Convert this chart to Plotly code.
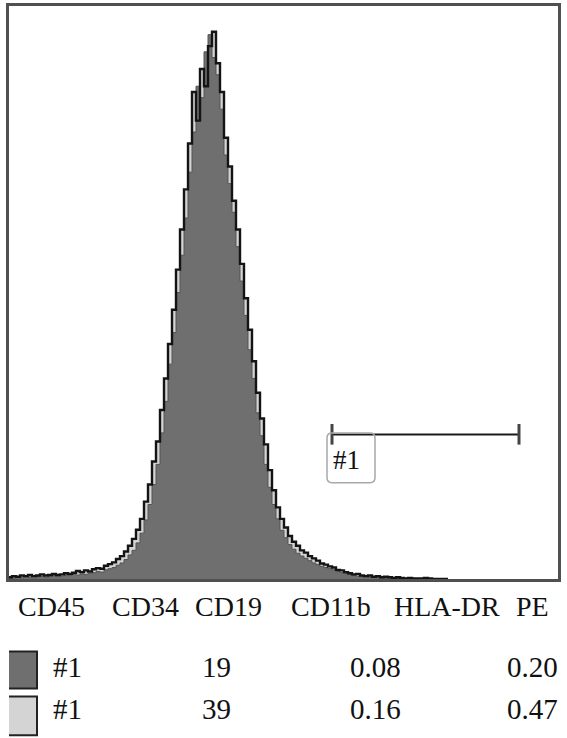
import plotly.graph_objects as go

# ---- data ----
channels = list(range(8, 452, 4))
series_dark = [0.1, 0.2, 0.3, 0.2, 0.4, 0.3, 0.2, 0.4, 0.5, 0.3,
               0.4, 0.6, 0.4, 0.5, 0.7, 0.6, 0.8, 0.7, 0.9, 0.8,
               1.0, 1.1, 1.3, 1.2, 1.6, 1.8, 2.0, 2.4, 2.8, 3.4,
               4.2, 5.0, 6.3, 8.0, 10.3, 13.0, 16.5, 20.0, 25.5, 31.0,
               37.5, 43.0, 50.0, 56.5, 63.0, 71.0, 78.0, 86.0, 84.0, 92.0,
               95.0, 91.0, 88.0, 82.0, 74.0, 69.0, 64.0, 58.0, 52.0, 46.0,
               40.0, 35.0, 29.0, 25.0, 20.0, 16.0, 13.0, 10.5, 8.5, 7.2,
               6.0, 5.2, 4.5, 4.0, 3.6, 3.2, 2.8, 2.5, 2.2, 2.0,
               1.8, 1.6, 1.3, 1.1, 1.0, 0.8, 0.6, 0.5, 0.5, 0.4,
               0.3, 0.4, 0.3, 0.2, 0.3, 0.2, 0.2, 0.1, 0.2, 0.1,
               0.1, 0.1, 0.0, 0.1, 0.0, 0.0, 0.0, 0.0, 0.0, 0.0,
               0.0]
series_light = [0.3, 0.5, 0.4, 0.6, 0.5, 0.7, 0.5, 0.6, 0.8, 0.6,
                0.7, 0.9, 0.7, 0.8, 1.0, 0.9, 1.1, 1.4, 1.2, 1.5,
                1.3, 1.7, 1.9, 1.8, 2.3, 2.6, 2.9, 3.5, 4.0, 4.8,
                5.8, 7.0, 8.6, 10.5, 13.5, 16.5, 20.5, 24.0, 29.5, 35.0,
                41.0, 47.0, 54.0, 61.0, 68.0, 76.0, 85.0, 80.0, 89.0, 86.0,
                93.0, 95.5, 90.0, 85.0, 77.0, 72.0, 66.0, 61.0, 55.0, 49.0,
                43.5, 38.0, 32.5, 28.0, 23.5, 19.0, 15.5, 12.5, 10.5, 9.0,
                7.5, 6.5, 5.8, 5.0, 4.6, 4.0, 3.6, 3.2, 2.7, 2.5,
                2.2, 2.0, 1.6, 1.5, 1.2, 1.0, 0.8, 0.9, 0.6, 0.5,
                0.6, 0.4, 0.5, 0.3, 0.4, 0.3, 0.2, 0.3, 0.2, 0.1,
                0.2, 0.1, 0.1, 0.1, 0.2, 0.1, 0.0, 0.0, 0.0, 0.0,
                0.0]
gate_range = [332, 519]
gate_level = 25.2
gate_name = "#1"
markers = ["CD45", "CD34", "CD19", "CD11b", "HLA-DR", "PE"]
row_names = ["#1", "#1"]
row_col2 = ["19", "39"]
row_col3 = ["0.08", "0.16"]
row_col4 = ["0.20", "0.47"]

DARK = "#6f6f6f"
LIGHT = "#d4d4d4"

fig = go.Figure()
fig.add_trace(go.Scatter(x=channels, y=series_light, mode="lines", line_shape="hv",
                         line=dict(width=0, color=LIGHT), fill="tozeroy",
                         fillcolor=LIGHT, hoverinfo="skip"))
fig.add_trace(go.Scatter(x=channels, y=series_dark, mode="lines", line_shape="hv",
                         line=dict(width=1.0, color="#555555"), fill="tozeroy",
                         fillcolor=DARK, hoverinfo="skip"))
fig.add_trace(go.Scatter(x=channels, y=series_light, mode="lines", line_shape="hv",
                         line=dict(width=2.4, color="#141414"), hoverinfo="skip"))

# gate
fig.add_shape(type="line", x0=gate_range[0], x1=gate_range[1], y0=gate_level, y1=gate_level,
              line=dict(color="#1a1a1a", width=2))
for gx in gate_range:
    fig.add_shape(type="line", x0=gx, x1=gx, y0=gate_level - 1.75, y1=gate_level + 1.85,
                  line=dict(color="#444444", width=3))
# rounded label box
bx0, bx1, by0, by1 = 327, 375, 16.8, 25.5
rx, ry = 5, 0.9
path = (f"M {bx0+rx},{by1} L {bx1-rx},{by1} Q {bx1},{by1} {bx1},{by1-ry} "
        f"L {bx1},{by0+ry} Q {bx1},{by0} {bx1-rx},{by0} L {bx0+rx},{by0} "
        f"Q {bx0},{by0} {bx0},{by0+ry} L {bx0},{by1-ry} Q {bx0},{by1} {bx0+rx},{by1} Z")
fig.add_shape(type="path", path=path, line=dict(color="#a8a8a8", width=1.5))
fig.add_annotation(x=346, y=20.8, text=gate_name, showarrow=False, xanchor="center",
                   yanchor="middle", font=dict(family="Liberation Serif", size=27, color="#111"))

FONT = dict(family="Liberation Serif", size=28, color="#111111")


def py(p):
    return (579 - p) / 576.0


header_x = [51.5, 145, 228.5, 331, 446.5, 532.5]
for lab, hx in zip(markers, header_x):
    fig.add_annotation(x=hx, y=py(607), xref="x", yref="paper", text=lab, showarrow=False,
                       xanchor="center", yanchor="middle", font=FONT)

row_y = [667, 710]
sw_y = [(652, 689), (697, 736)]
sw_col = [DARK, LIGHT]
for i in range(2):
    fig.add_shape(type="rect", xref="x", yref="paper", x0=1.5, x1=37, y0=py(sw_y[i][0]),
                  y1=py(sw_y[i][1]), fillcolor=sw_col[i], line=dict(color="#222222", width=2))
    for txt, cx in zip([row_names[i], row_col2[i], row_col3[i], row_col4[i]],
                       [67.5, 216, 375.5, 532.5]):
        fig.add_annotation(x=cx, y=py(row_y[i]), xref="x", yref="paper", text=txt,
                           showarrow=False, xanchor="center", yanchor="middle",
                           font=dict(family="Liberation Serif", size=29, color="#111111"))

fig.update_layout(width=567, height=738, margin=dict(l=9, r=9, t=3, b=159),
                  paper_bgcolor="white", plot_bgcolor="white", showlegend=False)
fig.update_xaxes(range=[9, 558], showgrid=False, zeroline=False, showticklabels=False,
                 ticks="", showline=True, linecolor="#505050", linewidth=2.5, mirror=True)
fig.update_yaxes(range=[0, 100], showgrid=False, zeroline=False, showticklabels=False,
                 ticks="", showline=True, linecolor="#505050", linewidth=2.5, mirror=True)

fig.write_html("out.html", config={"displayModeBar": False},
               post_script="document.body.style.margin='0';document.body.style.overflow='hidden';")
